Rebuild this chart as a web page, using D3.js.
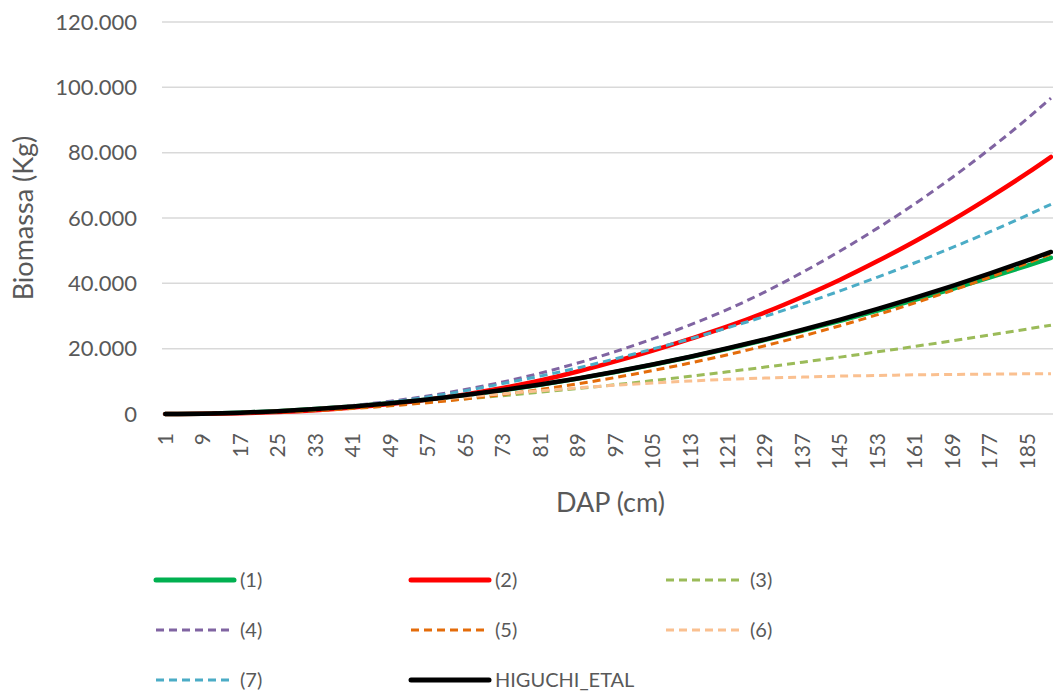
<!DOCTYPE html>
<html>
<head>
<meta charset="utf-8">
<script src="https://cdnjs.cloudflare.com/ajax/libs/d3/7.8.5/d3.min.js"></script>
<style>
  html, body { margin: 0; padding: 0; background: #fff; }
  svg { display: block; font-family: Lato, "Open Sans", sans-serif; }
</style>
</head>
<body>
<div id="chart"></div>
<script>
// Category axis: DAP in cm, one category per cm
const categories = d3.range(1, 192);
const tickCategories = categories.filter(c => (c - 1) % 8 === 0);
const yTicks = [0, 20000, 40000, 60000, 80000, 100000, 120000];

// Values at these DAP values (kg)
const dap = [1, 9, 17, 25, 33, 41, 49, 57, 65, 73, 81, 89, 97, 105, 113, 121, 129, 137, 145, 153, 161, 169, 177, 185, 190];

const eq1 = [0, 110, 400, 860, 1500, 2300, 3290, 4440, 5780, 7290, 8970, 10830, 12870, 15080, 17450, 19990, 22680, 25530, 28520, 31650, 34920, 38300, 41800, 45450, 47800];
const eq2 = [0, 50, 240, 610, 1180, 1990, 3040, 4400, 6000, 7950, 10250, 13000, 16100, 19400, 23000, 26800, 31100, 35900, 41100, 46800, 52900, 59400, 66400, 73800, 78700];
const eq3 = [0, 180, 510, 960, 1520, 2170, 2910, 3730, 4630, 5610, 6660, 7780, 8970, 10220, 11540, 12920, 14360, 15860, 17410, 19030, 20700, 22420, 24200, 26030, 27200];
const eq4 = [0, 80, 330, 800, 1550, 2600, 3900, 5500, 7500, 9800, 12500, 15600, 19100, 23000, 27300, 32000, 37400, 43400, 49900, 56900, 64400, 72500, 81200, 90500, 96700];
const eq5 = [0, 60, 240, 570, 1040, 1680, 2490, 3470, 4620, 5970, 7510, 9240, 11160, 13290, 15620, 18150, 20900, 23870, 27030, 30420, 34040, 37870, 41920, 46210, 49000];
const eq6 = [0, 150, 500, 1000, 1700, 2500, 3400, 4300, 5200, 6200, 7100, 8000, 8800, 9500, 10100, 10600, 11000, 11300, 11600, 11800, 12000, 12100, 12200, 12300, 12350];
const eq7 = [0, 80, 320, 780, 1500, 2450, 3700, 5200, 7100, 9300, 11600, 14100, 16900, 19900, 23000, 26400, 29900, 33700, 37700, 41900, 46300, 51000, 55800, 60900, 64200];
const higuchi = [0, 110, 400, 860, 1500, 2310, 3300, 4460, 5800, 7320, 9010, 10880, 12930, 15150, 17540, 20120, 22860, 25790, 28890, 32160, 35620, 39240, 43050, 47020, 49600];

const seriesNames = ['(1)', '(2)', '(3)', '(4)', '(5)', '(6)', '(7)', 'HIGUCHI_ETAL'];
const seriesValues = [eq1, eq2, eq3, eq4, eq5, eq6, eq7, higuchi];
const seriesColors = ['#00B050', '#FF0000', '#9BBB59', '#8064A2', '#E46C0A', '#FAC090', '#4BACC6', '#000000'];
const seriesDashed = [false, false, true, true, true, true, true, false];

const width = 1053, height = 693;
const textColor = '#595959';
const ptBR = d3.formatLocale({ decimal: ',', thousands: '.', grouping: [3], currency: ['R$', ''] });
const fmt = ptBR.format(',');

const svg = d3.select('#chart').append('svg')
  .attr('width', width)
  .attr('height', height);

const x = d3.scaleBand()
  .domain(categories)
  .range([163, 1058]);

const y = d3.scaleLinear()
  .domain([0, 120000])
  .range([414, 22]);

const xc = c => x(c) + x.bandwidth() / 2;

// Gridlines
svg.append('g')
  .selectAll('line')
  .data(yTicks)
  .enter()
  .append('line')
  .attr('x1', 162)
  .attr('x2', width)
  .attr('y1', d => y(d))
  .attr('y2', d => y(d))
  .attr('stroke', '#d9d9d9')
  .attr('stroke-width', 1.5);

// Y axis labels
const yAxis = svg.append('g')
  .attr('transform', 'translate(137,0)')
  .call(d3.axisLeft(y).tickValues(yTicks).tickFormat(fmt).tickSize(0).tickPadding(0));
yAxis.select('.domain').remove();
yAxis.selectAll('text')
  .attr('fill', textColor)
  .attr('font-size', 22)
  .attr('font-family', 'Lato, sans-serif');

// X axis labels (rotated)
const xAxis = svg.append('g')
  .attr('transform', 'translate(0,433)')
  .call(d3.axisBottom(x).tickValues(tickCategories).tickSize(0).tickPadding(0));
xAxis.select('.domain').remove();
xAxis.selectAll('text')
  .attr('fill', textColor)
  .attr('font-size', 21)
  .attr('font-family', 'Lato, sans-serif')
  .attr('text-anchor', 'end')
  .attr('transform', 'rotate(-90)')
  .attr('x', 0)
  .attr('y', 0)
  .attr('dy', '0.35em');

// Axis titles
svg.append('text')
  .attr('x', (163 + 1058) / 2)
  .attr('y', 512)
  .attr('text-anchor', 'middle')
  .attr('fill', textColor)
  .attr('font-size', 27)
  .text('DAP (cm)');

svg.append('text')
  .attr('transform', 'translate(33,218) rotate(-90)')
  .attr('text-anchor', 'middle')
  .attr('fill', textColor)
  .attr('font-size', 27)
  .text('Biomassa (Kg)');

// Series lines
const line = d3.line()
  .x(d => xc(d.c))
  .y(d => y(d.v))
  .curve(d3.curveMonotoneX);

const series = seriesNames.map((name, i) => ({
  name,
  color: seriesColors[i],
  dashed: seriesDashed[i],
  points: dap.map((c, j) => ({ c, v: seriesValues[i][j] }))
}));

svg.append('g')
  .attr('class', 'lines')
  .selectAll('path')
  .data(series)
  .enter()
  .append('path')
  .attr('d', d => line(d.points))
  .attr('fill', 'none')
  .attr('stroke', d => d.color)
  .attr('stroke-width', d => d.dashed ? 3 : 4.5)
  .attr('stroke-dasharray', d => d.dashed ? '8,5' : null)
  .attr('stroke-linecap', d => d.dashed ? 'butt' : 'round')
  .attr('stroke-linejoin', 'round');

// Legend: 3 columns
const legend = svg.append('g')
  .selectAll('g')
  .data(series)
  .enter()
  .append('g')
  .attr('transform', (d, i) => `translate(${156 + (i % 3) * 255},${580 + Math.floor(i / 3) * 50})`);

legend.append('line')
  .attr('x1', 0)
  .attr('x2', 78)
  .attr('y1', 0)
  .attr('y2', 0)
  .attr('stroke', d => d.color)
  .attr('stroke-width', d => d.dashed ? 3 : 5)
  .attr('stroke-dasharray', d => d.dashed ? '8,5' : null)
  .attr('stroke-linecap', d => d.dashed ? 'butt' : 'round');

legend.append('text')
  .attr('x', 84)
  .attr('y', 0)
  .attr('dy', '0.35em')
  .attr('fill', textColor)
  .attr('font-size', 20)
  .text(d => d.name);
</script>
</body>
</html>
